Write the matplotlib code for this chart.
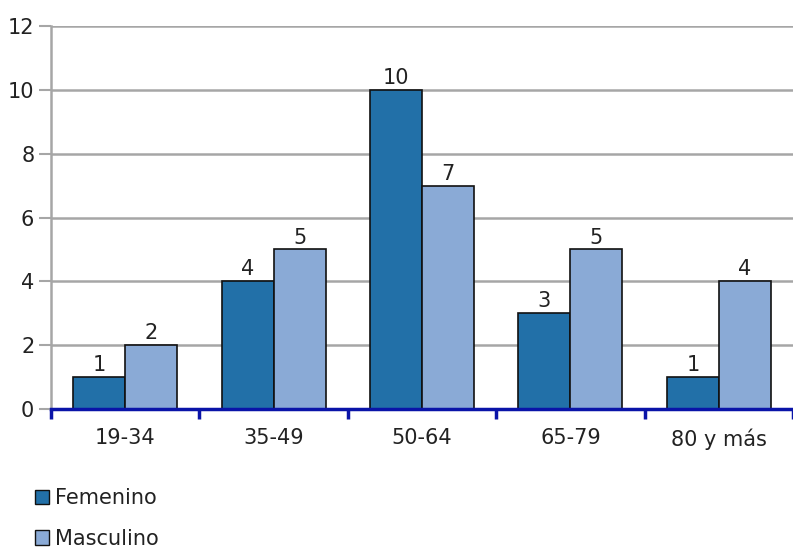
import numpy as np
import matplotlib
matplotlib.use("Agg")
import matplotlib.pyplot as plt
from matplotlib.patches import Patch

# data
grupos = ["19-34", "35-49", "50-64", "65-79", "80 y más"]
femenino = [1, 4, 10, 3, 1]
masculino = [2, 5, 7, 5, 4]

col_fem = "#2270a8"
col_mas = "#8aaad6"
col_grid = "#a6a6a6"
col_eje = "#0a14a8"
fs = 15

plt.rcParams["font.family"] = ["DejaVu Sans"]

fig = plt.figure(figsize=(7.93, 5.48), dpi=100)
ax = fig.add_axes([51 / 793, 139 / 548, 742 / 793, 383 / 548])

x = np.arange(len(grupos))
w = 0.35
b1 = ax.bar(x - w / 2, femenino, w, color=col_fem, edgecolor="#111111", linewidth=1.2, zorder=3)
b2 = ax.bar(x + w / 2, masculino, w, color=col_mas, edgecolor="#111111", linewidth=1.2, zorder=3)

for bars, vals in ((b1, femenino), (b2, masculino)):
    for r, v in zip(bars, vals):
        ax.text(r.get_x() + r.get_width() / 2, v + 0.06, str(v), ha="center", va="bottom",
                fontsize=fs, color="#222222")

ax.set_xlim(-0.5, len(grupos) - 0.5)
ax.set_ylim(0, 12)
ax.set_yticks(range(0, 13, 2))
ax.yaxis.grid(True, color=col_grid, linewidth=1.8, zorder=0)
ax.set_axisbelow(True)

for s in ("top", "right"):
    ax.spines[s].set_visible(False)
ax.spines["left"].set_color(col_grid)
ax.spines["left"].set_linewidth(1.8)
ax.spines["bottom"].set_color(col_eje)
ax.spines["bottom"].set_linewidth(2.5)
ax.spines["bottom"].set_zorder(4)

ax.tick_params(axis="y", colors=col_grid, length=9, width=1.5, labelcolor="#222222",
               labelsize=fs, pad=3)
# category ticks sit between groups; labels centred under them
ax.set_xticks(np.arange(len(grupos) + 1) - 0.5)
ax.set_xticklabels([])
ax.tick_params(axis="x", colors=col_eje, length=7, width=2.5, direction="out")
ax.set_xticks(x, minor=True)
ax.set_xticklabels(grupos, minor=True)
ax.tick_params(axis="x", which="minor", length=0, labelsize=fs, labelcolor="#222222", pad=14)

handles = [Patch(facecolor=col_fem, edgecolor="#111111", label="Femenino"),
           Patch(facecolor=col_mas, edgecolor="#111111", label="Masculino")]
fig.legend(handles=handles, loc="lower left", bbox_to_anchor=(0.02, -0.036), frameon=False,
           fontsize=fs, handlelength=0.7, handleheight=0.7, handletextpad=0.3,
           labelspacing=1.0, labelcolor="#222222")

fig.savefig("out.png", dpi=100)
